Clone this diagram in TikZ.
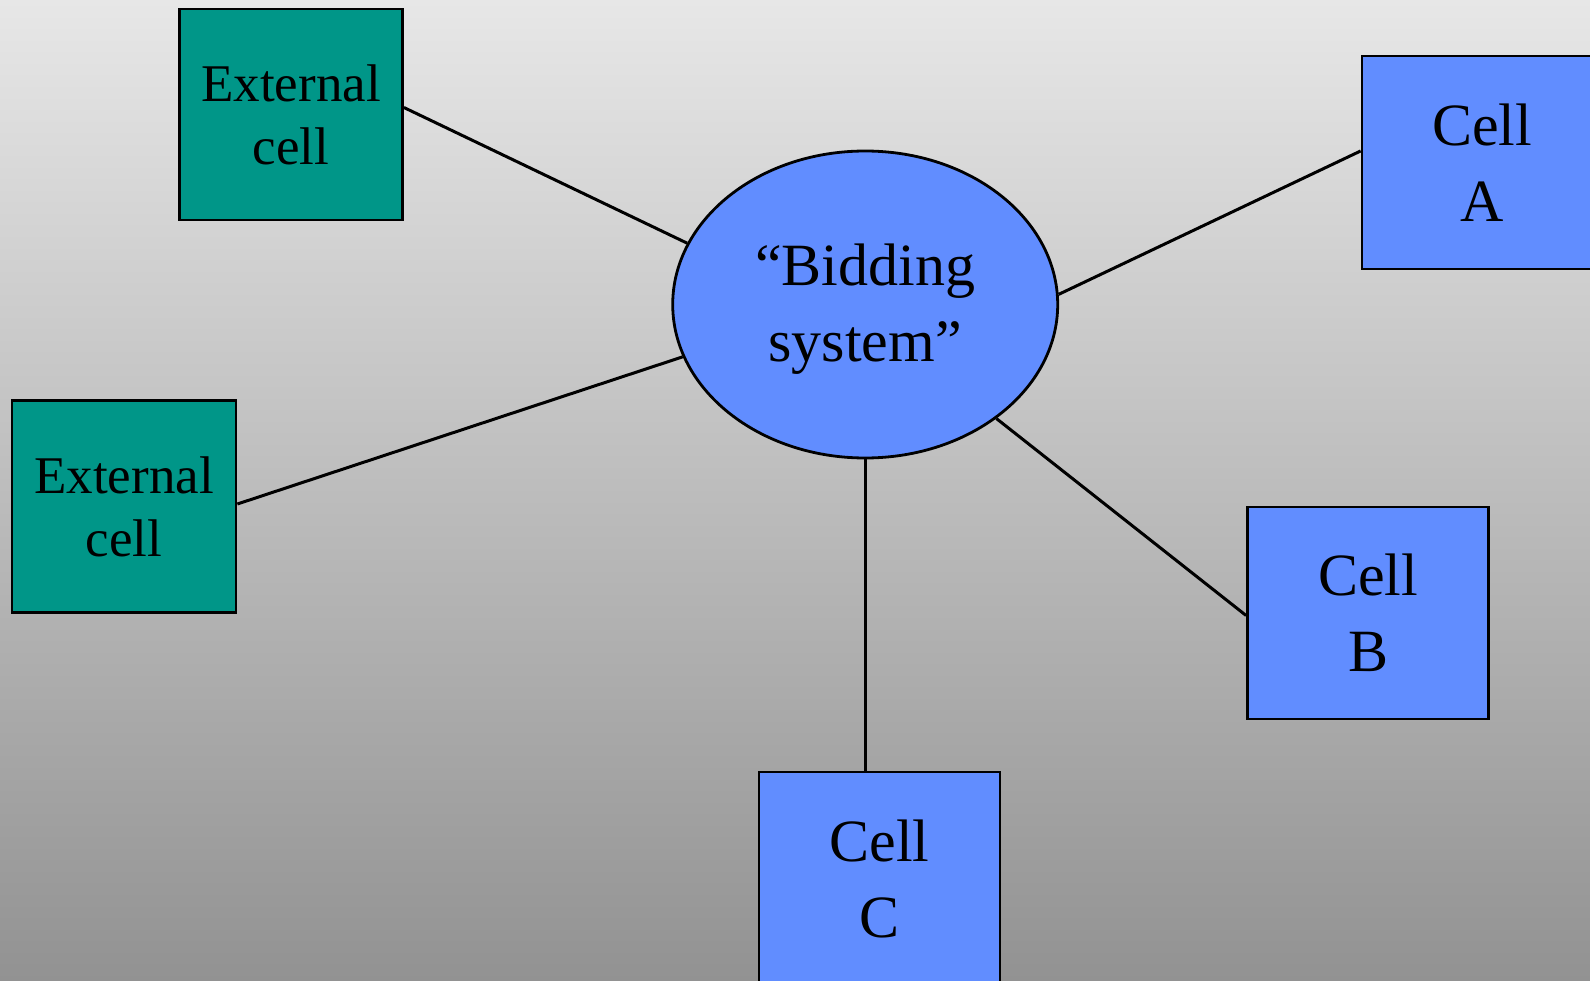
\documentclass[tikz,border=0pt]{standalone}
\usepackage{fontspec}
\setmainfont{Liberation Serif}
\usetikzlibrary{shapes.geometric,calc}
\definecolor{bgtop}{RGB}{231,231,231}
\definecolor{bgbottom}{RGB}{146,146,146}
\definecolor{extteal}{RGB}{0,150,136}
\definecolor{cellblue}{RGB}{97,141,255}
\tikzset{
  boxbase/.style={draw=black, line width=2.8pt, inner sep=0pt, align=center},
  extbox/.style={boxbase, fill=extteal, minimum width=223pt, minimum height=211pt,
    font=\fontsize{53}{63}\selectfont},
  cellbox/.style={boxbase, fill=cellblue, minimum width=241pt, minimum height=212pt,
    font=\fontsize{60}{76}\selectfont},
  hub/.style={ellipse, draw=black, line width=2.8pt, fill=cellblue, inner sep=0pt,
    minimum width=385pt, minimum height=307pt, align=center,
    font=\fontsize{60}{76}\selectfont},
  link/.style={draw=black, line width=3pt}
}
\begin{document}
\begin{tikzpicture}[x=1pt,y=-1pt]
  % gradient backdrop
  \shade[top color=bgtop, bottom color=bgbottom] (0,0) rectangle (1590,981);
  \useasboundingbox (0,0) rectangle (1590,981);

  % central bidding system (strut lowers the two lines slightly)
  \node[hub] (bid) at (865.2,304.5) {\rule{0pt}{51pt}“Bidding\\system”};

  % external cells
  \node[extbox] (ext1) at (291,114.5) {External\\cell};
  \node[extbox, minimum width=224pt, minimum height=212pt] (ext2) at (124,506.5) {External\\cell};

  % member cells
  \node[cellbox, minimum width=240pt, minimum height=213pt] (cellA) at (1482,162.5) {Cell\\A};
  \node[cellbox] (cellB) at (1368,613) {Cell\\B};
  \node[cellbox, minimum height=213pt] (cellC) at (879.5,878.5) {Cell\\C};

  % connectors
  \draw[link] ($(ext1.east)+(0,-7)$) -- (bid.161.6);
  \draw[link] ($(ext2.east)+(0,-2.5)$) -- (bid.196.7);
  \draw[link] (bid.3) -- ($(cellA.west)+(0,-11.5)$);
  \draw[link] (bid.-41) -- ($(cellB.west)+(0,2.5)$);
  \draw[link] (bid.south) -- (bid.south |- cellC.north);
\end{tikzpicture}
\end{document}
